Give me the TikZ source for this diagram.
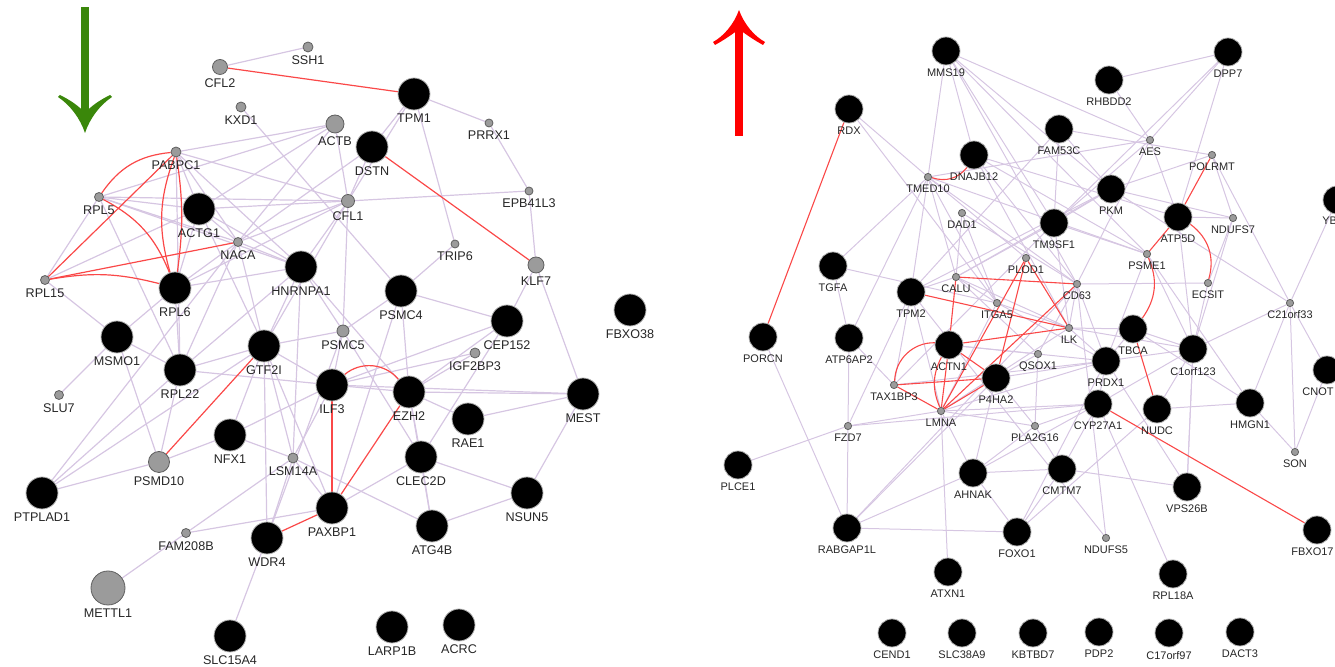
\documentclass[tikz,border=0pt]{standalone}
\usepackage{fontspec}
\newfontfamily\labfont{Liberation Sans}
\pgfdeclarelayer{edges}
\pgfsetlayers{edges,main}
\definecolor{pe}{RGB}{214,198,226}
\definecolor{re}{RGB}{250,72,72}
\definecolor{garrow}{RGB}{58,135,10}
\definecolor{rarrow}{RGB}{255,0,0}
\definecolor{gfill}{RGB}{155,155,155}
\definecolor{gdraw}{RGB}{95,95,95}
\tikzset{
  bkL/.style={circle,fill=black,draw=gray!60,line width=0.4pt,minimum size=16pt,inner sep=0pt},
  bkR/.style={circle,fill=black,draw=gray!60,line width=0.4pt,minimum size=14pt,inner sep=0pt},
  gr/.style={circle,fill=gfill,draw=gdraw,line width=0.4pt,minimum size=#1,inner sep=0pt},
  gr/.default=4.5pt,
  llab/.style={font=\labfont\fontsize{6.3}{7}\selectfont,inner sep=0.5pt,label distance=1.2pt,text=black!85},
  rlab/.style={font=\labfont\fontsize{5.5}{6}\selectfont,inner sep=0.5pt,label distance=1.2pt,text=black!85},
  pl/.style={draw=pe,line width=0.6pt},
  pr/.style={draw=pe,line width=0.5pt},
  rl/.style={draw=re,line width=0.6pt},
  rr/.style={draw=re,line width=0.55pt}
}
\begin{document}
\begin{tikzpicture}[x=0.5pt,y=-0.5pt]
\useasboundingbox (0,0) rectangle (1335,667);
\clip (0,0) rectangle (1335,667);
% arrows
\fill[garrow] (81,7) rectangle (89,120);
\fill[garrow] (85,133) .. controls (80,118) and (70,105) .. (58,97) -- (60,95)
  .. controls (70,100) and (79,106) .. (85,113) .. controls (91,106) and (100,100) .. (110,95) -- (112,97)
  .. controls (100,105) and (90,118) .. (85,133) -- cycle;
\fill[rarrow] (735,24) rectangle (743,136);
\fill[rarrow] (739,10) .. controls (734,24) and (724,36) .. (713,42) -- (715,45)
  .. controls (724,40) and (733,34) .. (739,29) .. controls (745,34) and (754,40) .. (763,45) -- (765,42)
  .. controls (754,36) and (744,24) .. (739,10) -- cycle;
% ---------- left network: black nodes
\foreach \n/\x/\y in {TPM1/414/94, DSTN/372/147, ACTG1/199/209, RPL6/175/288, HNRNPA1/301/267,
  PSMC4/401/291, FBXO38/630/310, CEP152/507/321, MSMO1/117/337, GTF2I/264/346, RPL22/180/370,
  ILF3/332/385, EZH2/409/392, RAE1/468/419, MEST/583/394, NFX1/230/435, CLEC2D/421/457,
  PTPLAD1/42/493, NSUN5/527/493, PAXBP1/332/508, ATG4B/432/526, WDR4/267/538,
  SLC15A4/230/636, LARP1B/392/627, ACRC/459/625}
  \node[bkL,label={[llab]below:\n}] (\n) at (\x,\y) {};
% left grey nodes
\foreach \n/\x/\y/\s in {CFL2/220/67/7.5pt, SSH1/308/47/5pt, KXD1/241/107/5pt, PRRX1/489/123/4pt,
  ACTB/335/124/9pt, PABPC1/176/152/5pt, RPL5/99/197/4.5pt, CFL1/348/201/6.5pt, EPB41L3/529/191/4pt,
  NACA/238/242/4.5pt, RPL15/45/280/4.5pt, TRIP6/455/244/4pt, KLF7/536/265/8pt, PSMC5/343/331/6pt,
  IGF2BP3/475/353/5pt, SLU7/59/395/4.5pt, PSMD10/159/462/10.5pt, LSM14A/293/458/5pt,
  FAM208B/186/533/4.5pt, METTL1/108/588/17pt}
  \node[gr=\s,label={[llab]below:\n}] (\n) at (\x,\y) {};
% ---------- right network: black nodes
\foreach \n/\x/\y in {MMS19/946/51, DPP7/1228/52, RHBDD2/1109/80, RDX/849/109, FAM53C/1059/129,
  DNAJB12/974/155, PKM/1111/189, TM9SF1/1054/223, ATP5D/1178/217, TGFA/833/266, TPM2/911/292,
  PORCN/763/337, ATP6AP2/849/338, TBCA/1133/329, ACTN1/949/345, C1orf123/1193/349, PRDX1/1106/361,
  P4HA2/996/378, CYP27A1/1098/404, NUDC/1157/409, HMGN1/1250/403, PLCE1/738/465, AHNAK/973/473,
  CMTM7/1062/469, VPS26B/1187/487, RABGAP1L/847/528, FOXO1/1017/532,
  ATXN1/948/572, RPL18A/1173/574, CEND1/892/633, SLC38A9/962/633, KBTBD7/1033/633, PDP2/1099/632,
  C17orf97/1169/633, DACT3/1240/632}
  \node[bkR,label={[rlab]below:\n}] (\n) at (\x,\y) {};
\node[bkR] (FBXO17) at (1317,530) {};
\node[rlab,anchor=east] (FBXO17l) at (1335,552) {FBXO17};
\node[bkR] (YB) at (1337,200) {};
\node[rlab,anchor=west] (YBl) at (1321,221) {YB};
\node[bkR] (CNOT) at (1327,370) {};
\node[rlab,anchor=east] (CNOTl) at (1335,392) {CNOT};
% right grey nodes
\foreach \n/\x/\y in {AES/1150/140, POLRMT/1212/155, TMED10/928/177, DAD1/962/213, NDUFS7/1233/218,
  PLOD1/1026/258, PSME1/1147/254, CALU/956/277, CD63/1077/284, ECSIT/1208/283, ITGA5/997/303,
  C21orf33/1290/303, ILK/1069/328, QSOX1/1038/354, TAX1BP3/894/385, LMNA/941/411, FZD7/848/426,
  PLA2G16/1035/426, SON/1295/452, NDUFS5/1106/538}
  \node[gr=3.6pt,label={[rlab]below:\n}] (\n) at (\x,\y) {};
\begin{pgfonlayer}{edges}
% left purple edges
\foreach \a/\b in {CFL2/SSH1, KXD1/PSMC4, ACTB/PABPC1, ACTB/CFL1, ACTB/ACTG1, ACTB/RPL5, ACTB/NACA,
  TPM1/DSTN, TPM1/CFL1, TPM1/PRRX1, TPM1/TRIP6, PRRX1/EPB41L3, EPB41L3/KLF7, CFL1/EPB41L3,
  DSTN/CFL1, DSTN/NACA, CFL1/RPL6, CFL1/NACA, CFL1/ACTG1, CFL1/RPL5, CFL1/HNRNPA1, CFL1/PSMC5,
  CFL1/GTF2I, TRIP6/PSMC4, PSMC4/PSMC5, PSMC4/CEP152, PSMC4/EZH2, PABPC1/CFL1, KLF7/CEP152,
  KLF7/MEST, CEP152/EZH2, CEP152/ILF3, CEP152/CLEC2D, IGF2BP3/EZH2, IGF2BP3/ILF3, EZH2/MEST,
  EZH2/RAE1, EZH2/CLEC2D, EZH2/ATG4B, RAE1/MEST, MEST/NSUN5, CLEC2D/NSUN5, CLEC2D/ATG4B,
  CLEC2D/PAXBP1, ATG4B/NSUN5, ATG4B/LSM14A, PSMC5/ILF3, PSMC5/CLEC2D, PSMC5/HNRNPA1, PSMC5/GTF2I,
  HNRNPA1/RPL6, HNRNPA1/ACTG1, HNRNPA1/GTF2I, HNRNPA1/LSM14A, HNRNPA1/NACA, HNRNPA1/RPL22,
  HNRNPA1/RPL5, HNRNPA1/PABPC1, HNRNPA1/EZH2, GTF2I/ILF3, GTF2I/NACA, GTF2I/RPL22, GTF2I/LSM14A,
  GTF2I/WDR4, GTF2I/NFX1, GTF2I/PAXBP1, ILF3/RPL22, ILF3/NFX1, ILF3/EZH2, ILF3/LSM14A, ILF3/MEST,
  NFX1/PSMD10, NFX1/LSM14A, LSM14A/FAM208B, LSM14A/WDR4, LSM14A/PAXBP1, FAM208B/METTL1,
  FAM208B/PAXBP1, WDR4/SLC15A4, WDR4/PSMC5, PTPLAD1/PSMD10, PTPLAD1/RPL22, PTPLAD1/GTF2I,
  PTPLAD1/NACA, MSMO1/RPL15, MSMO1/RPL6, MSMO1/RPL22, MSMO1/SLU7, MSMO1/PSMD10, RPL22/RPL6,
  RPL22/RPL5, RPL22/NACA, RPL22/PABPC1, RPL22/PSMD10, RPL6/NACA, RPL6/ACTG1, RPL5/ACTG1,
  RPL5/NACA, RPL5/RPL15, RPL15/ACTG1, PABPC1/ACTG1, PABPC1/NACA, ACTG1/NACA, ACTG1/GTF2I,
  PAXBP1/PSMC4}
  \draw[pl] (\a) -- (\b);
% left red edges
\draw[rl] (CFL2) -- (TPM1);
\draw[rl] (DSTN) -- (KLF7);
\draw[rl] (PABPC1) to[bend right=25] (RPL5);
\draw[rl] (PABPC1) -- (RPL15);
\draw[rl] (PABPC1) to[bend right=18] (RPL6);
\draw[rl] (PABPC1) to[bend left=8] (RPL6);
\draw[rl] (RPL5) to[bend left=20] (RPL6);
\draw[rl] (RPL15) -- (NACA);
\draw[rl] (RPL15) to[bend left=12] (RPL6);
\draw[rl] (GTF2I) -- (PSMD10);
\draw[rl] (ILF3) to[bend left=45] (EZH2);
\draw[rl] (ILF3) -- (PAXBP1);
\draw[rl] (EZH2) -- (PAXBP1);
\draw[rl] (WDR4) -- (PAXBP1);
% right purple edges
\foreach \a/\b in {MMS19/TMED10, MMS19/PKM, MMS19/AES, MMS19/TM9SF1, MMS19/CD63, MMS19/PSME1,
  MMS19/DNAJB12, RDX/TMED10, RDX/ITGA5, DPP7/RHBDD2, DPP7/AES, DPP7/ATP5D, DPP7/TM9SF1, RHBDD2/AES,
  FAM53C/POLRMT, FAM53C/TM9SF1, FAM53C/PKM, FAM53C/TPM2, AES/ATP5D, AES/TM9SF1, AES/CD63,
  AES/TMED10, POLRMT/PKM, POLRMT/NDUFS7, POLRMT/C21orf33, PKM/NDUFS7, PKM/TM9SF1, PKM/CALU,
  PKM/TPM2, DNAJB12/PSME1, DNAJB12/CD63, DNAJB12/ILK, DNAJB12/ATP5D, TMED10/TGFA, TMED10/TPM2,
  TMED10/CALU, TMED10/ITGA5, TMED10/PLOD1, TMED10/CD63, TMED10/ATP6AP2, TMED10/PSME1, DAD1/CALU,
  DAD1/ITGA5, DAD1/CD63, TM9SF1/CALU, TM9SF1/ILK, TM9SF1/PSME1, TM9SF1/TAX1BP3, ATP5D/NDUFS7,
  ATP5D/C1orf123, NDUFS7/C1orf123, YB/C21orf33, TGFA/ATP6AP2, TGFA/ITGA5, ATP6AP2/FZD7,
  ATP6AP2/TAX1BP3, PORCN/RABGAP1L, FZD7/LMNA, FZD7/PLCE1, FZD7/RABGAP1L, FZD7/CYP27A1, FZD7/TPM2,
  TPM2/LMNA, TPM2/TAX1BP3, TPM2/CALU, CALU/ITGA5, CALU/ILK, CALU/QSOX1, ITGA5/ILK, ITGA5/LMNA,
  ITGA5/PRDX1, CD63/ILK, CD63/PRDX1, CD63/QSOX1, ILK/PRDX1, ILK/TBCA, ILK/LMNA, ILK/C1orf123,
  PSME1/PRDX1, PSME1/C1orf123, PSME1/HMGN1, ECSIT/C1orf123, ECSIT/NDUFS7, ECSIT/CD63,
  C21orf33/C1orf123, C21orf33/HMGN1, C21orf33/SON, C21orf33/CNOT, C21orf33/PKM, CNOT/SON,
  C1orf123/PRDX1, C1orf123/NUDC, C1orf123/CYP27A1, C1orf123/VPS26B, PRDX1/CYP27A1, PRDX1/TBCA,
  PRDX1/LMNA, PRDX1/P4HA2, TBCA/C1orf123, TBCA/HMGN1, NUDC/HMGN1, NUDC/FOXO1, HMGN1/SON,
  QSOX1/P4HA2, QSOX1/PLA2G16, P4HA2/AHNAK, P4HA2/PLA2G16, LMNA/AHNAK, LMNA/ATXN1, LMNA/PLA2G16,
  CYP27A1/AHNAK, CYP27A1/CMTM7, CYP27A1/PLA2G16, CYP27A1/RPL18A, PLA2G16/AHNAK, PLA2G16/CMTM7,
  AHNAK/FOXO1, AHNAK/RABGAP1L, AHNAK/CMTM7, CMTM7/FOXO1, CMTM7/VPS26B, FOXO1/RABGAP1L,
  FOXO1/PRDX1, NDUFS5/CD63, NDUFS5/TPM2, VPS26B/C1orf123, VPS26B/PRDX1, RABGAP1L/P4HA2,
  RABGAP1L/CD63, ACTN1/PRDX1, ACTN1/QSOX1, TAX1BP3/PRDX1, LMNA/CYP27A1}
  \draw[pr] (\a) -- (\b);
% right red edges
\draw[rr] (RDX) -- (PORCN);
\draw[rr] (TMED10) to[bend right=35] (DNAJB12);
\draw[rr] (POLRMT) -- (ATP5D);
\draw[rr] (ATP5D) -- (PSME1);
\draw[rr] (ATP5D) to[bend left=35] (ECSIT);
\draw[rr] (PSME1) to[bend left=30] (TBCA);
\draw[rr] (TBCA) -- (NUDC);
\draw[rr] (CYP27A1) -- (FBXO17);
\draw[rr] (CALU) -- (ACTN1);
\draw[rr] (CALU) -- (CD63);
\draw[rr] (TPM2) -- (ILK);
\draw[rr] (PLOD1) -- (ILK);
\draw[rr] (PLOD1) -- (P4HA2);
\draw[rr] (CD63) -- (LMNA);
\draw[rr] (ACTN1) to[bend right=45] (TAX1BP3);
\draw[rr] (ACTN1) to[bend right=25] (LMNA);
\draw[rr] (ACTN1) -- (LMNA);
\draw[rr] (ACTN1) -- (P4HA2);
\draw[rr] (ACTN1) -- (ILK);
\draw[rr] (TAX1BP3) -- (LMNA);
\draw[rr] (TAX1BP3) -- (P4HA2);
\draw[rr] (LMNA) -- (P4HA2);
\draw[rr] (LMNA) -- (PLOD1);
\end{pgfonlayer}
\end{tikzpicture}
\end{document}
